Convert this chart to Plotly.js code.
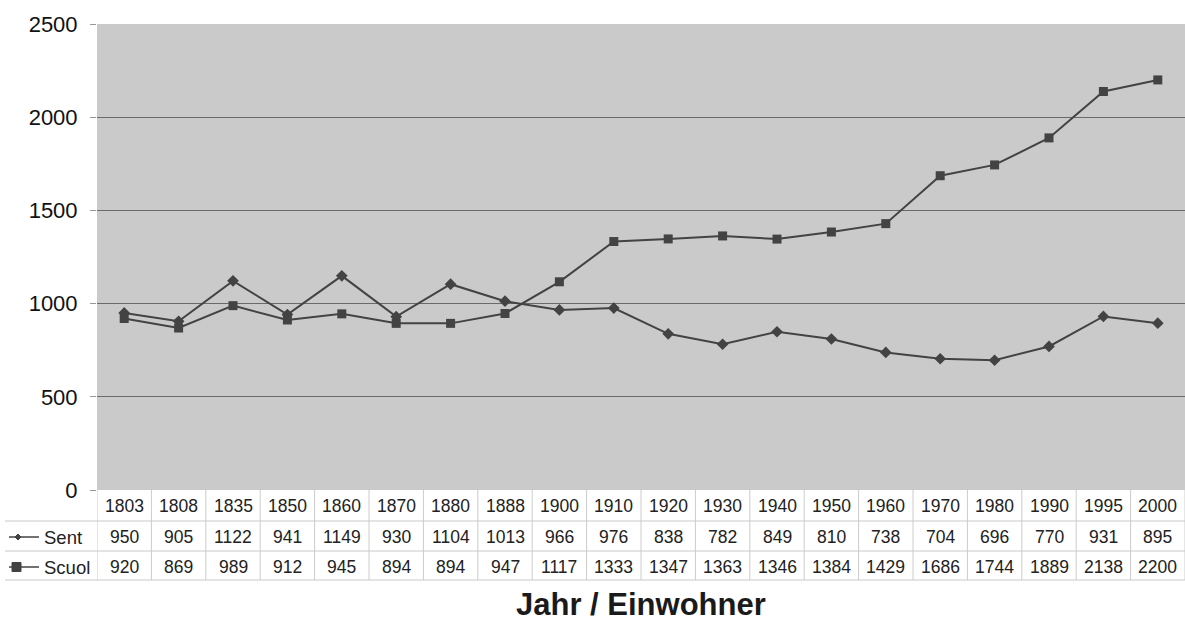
<!DOCTYPE html>
<html><head><meta charset="utf-8">
<script src="https://cdn.plot.ly/plotly-3.0.1.min.js"></script>
<style>html,body{margin:0;padding:0;background:#fff}</style>
</head><body>
<div id="chart" style="width:1185px;height:621px"></div>
<script>
const years = ["1803","1808","1835","1850","1860","1870","1880","1888","1900","1910","1920","1930","1940","1950","1960","1970","1980","1990","1995","2000"];
const sent = [950,905,1122,941,1149,930,1104,1013,966,976,838,782,849,810,738,704,696,770,931,895];
const scuol = [920,869,989,912,945,894,894,947,1117,1333,1347,1363,1346,1384,1429,1686,1744,1889,2138,2200];
const seriesNames = ["Sent","Scuol"];

const L = 97, R = 0, T = 24, B = 131, W = 1185, H = 621;
const plotW = W - L - R, plotH = H - T - B;
const px2x = p => (p - L) / plotW;
const py2y = p => (H - B - p) / plotH;

const font = "Liberation Sans, Arial, sans-serif";
const lineCol = "#434343";

const traces = [
  {x: years, y: sent, name: seriesNames[0], type: "scatter", mode: "lines+markers",
   line: {color: lineCol, width: 2}, marker: {symbol: "diamond", size: 9, color: lineCol}},
  {x: years, y: scuol, name: seriesNames[1], type: "scatter", mode: "lines+markers",
   line: {color: lineCol, width: 2}, marker: {symbol: "square", size: 9, color: lineCol}}
];

const rowY = [506, 537, 567];
const hLines = [521, 551, 580];
const annotations = [];
const shapes = [];
const tfont = {family: font, size: 17.5, color: "#222"};
years.forEach((yr, i) => {
  [yr, String(sent[i]), String(scuol[i])].forEach((t, r) => {
    annotations.push({x: i, y: py2y(rowY[r]), xref: "x", yref: "paper", text: t, showarrow: false,
      font: tfont, xanchor: "center", yanchor: "middle"});
  });
});
for (let i = 0; i <= years.length; i++) {
  shapes.push({type: "line", xref: "x", yref: "paper", x0: i - 0.5, x1: i - 0.5,
    y0: py2y(490), y1: py2y(580), line: {color: "#cccccc", width: 1}});
}
hLines.forEach((p) => {
  shapes.push({type: "line", xref: "paper", yref: "paper", x0: px2x(5), x1: 1,
    y0: py2y(p), y1: py2y(p), line: {color: "#c8c8c8", width: 1}});
});
// legend keys in table
annotations.push({x: px2x(42), y: py2y(rowY[1]), xref: "paper", yref: "paper", text: seriesNames[0], showarrow: false,
  font: {family: font, size: 18.5, color: "#222"}, xanchor: "left", yanchor: "middle"});
annotations.push({x: px2x(42), y: py2y(rowY[2]), xref: "paper", yref: "paper", text: seriesNames[1], showarrow: false,
  font: {family: font, size: 18.5, color: "#222"}, xanchor: "left", yanchor: "middle"});
shapes.push({type: "line", xref: "paper", yref: "paper", x0: px2x(9), x1: px2x(39), y0: py2y(rowY[1]), y1: py2y(rowY[1]),
  line: {color: lineCol, width: 1.5}});
shapes.push({type: "path", xref: "paper", yref: "paper",
  path: `M ${px2x(18)},${py2y(rowY[1]-3)} L ${px2x(21)},${py2y(rowY[1])} L ${px2x(18)},${py2y(rowY[1]+3)} L ${px2x(15)},${py2y(rowY[1])} Z`,
  fillcolor: lineCol, line: {color: lineCol, width: 1}});
shapes.push({type: "line", xref: "paper", yref: "paper", x0: px2x(9), x1: px2x(39), y0: py2y(rowY[2]), y1: py2y(rowY[2]),
  line: {color: lineCol, width: 1.5}});
shapes.push({type: "rect", xref: "paper", yref: "paper", x0: px2x(12), x1: px2x(21), y0: py2y(rowY[2]-4.5), y1: py2y(rowY[2]+4.5),
  fillcolor: lineCol, line: {color: lineCol, width: 1}});

// title below
annotations.push({x: px2x(641), y: py2y(604), xref: "paper", yref: "paper", text: "<b>Jahr / Einwohner</b>", showarrow: false,
  font: {family: font, size: 31, color: "#1a1a1a"}, xanchor: "center", yanchor: "middle"});

const layout = {
  width: W, height: H,
  margin: {l: L, r: R, t: T, b: B, pad: 0},
  paper_bgcolor: "#ffffff",
  plot_bgcolor: "#cacaca",
  showlegend: false,
  xaxis: {type: "category", range: [-0.5, 19.5], showticklabels: false, showgrid: false,
    zeroline: false, showline: false, ticks: ""},
  yaxis: {range: [0, 2500], tickvals: [0, 500, 1000, 1500, 2000, 2500], showgrid: true,
    gridcolor: "#6a6a6a", gridwidth: 1, zeroline: false, ticks: "outside", ticklen: 6, tickcolor: "#999",
    ticklabelstandoff: 8, showline: false,
    tickfont: {family: font, size: 22, color: "#111"}},
  annotations: annotations,
  shapes: shapes
};
Plotly.newPlot("chart", traces, layout, {displayModeBar: false, staticPlot: true});
</script>
</body></html>
